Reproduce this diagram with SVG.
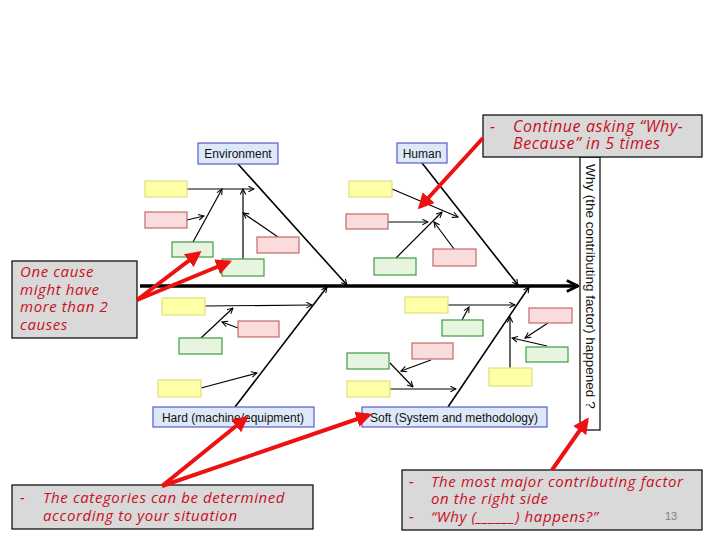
<svg xmlns="http://www.w3.org/2000/svg" width="720" height="540" viewBox="0 0 720 540">
<style>
.lbl{fill:#dde9f8;stroke:#5a5ad0;stroke-width:1.2}
.lt{font-family:"Liberation Sans",Arial,sans-serif;font-size:12px;fill:#111}
.y{fill:#ffffa6;stroke:#e0e080;stroke-width:1.2}
.p{fill:#fadcdc;stroke:#c06a6a;stroke-width:1.2}
.g{fill:#e6f4e0;stroke:#3a9e40;stroke-width:1.2}
.bone{stroke:#000;stroke-width:1.6;fill:none;marker-end:url(#ah)}
.sub{stroke:#000;stroke-width:1.2;fill:none;marker-end:url(#ah)}
.call{fill:#d9d9d9;stroke:#000;stroke-width:1.2}
.ct{font-family:"Open Sans","Liberation Sans",sans-serif;font-style:italic;font-size:15px;letter-spacing:0.6px;fill:#c8101e}
.ct2{font-family:"Open Sans","Liberation Sans",sans-serif;font-style:italic;font-size:16px;letter-spacing:0.6px;fill:#c8101e}
.red{stroke:#ee1111;stroke-width:4;fill:none;marker-end:url(#rh)}
</style>
<defs>
<marker id="ah" viewBox="0 0 10 10" refX="9" refY="5" markerWidth="7" markerHeight="7" markerUnits="userSpaceOnUse" orient="auto">
<path d="M1,1 L9,5 L1,9" fill="none" stroke="#000" stroke-width="1.5"/>
</marker>
<marker id="sh" viewBox="0 0 10 10" refX="9" refY="5" markerWidth="4" markerHeight="4" orient="auto">
<path d="M1,1 L9,5 L1,9" fill="none" stroke="#000" stroke-width="2"/>
</marker>
<marker id="rh" viewBox="0 0 10 10" refX="8" refY="5" markerWidth="4" markerHeight="4" orient="auto">
<path d="M0,0 L10,5 L0,10 Z" fill="#ee1111"/>
</marker>
</defs>
<rect width="720" height="540" fill="#fff"/>

<g id="connectors">
<line x1="140" y1="286" x2="578" y2="286" stroke="#000" stroke-width="3.5" marker-end="url(#sh)"/>
<line class="bone" x1="238" y1="164" x2="347" y2="285"/>
<line class="bone" x1="422" y1="163" x2="518" y2="285"/>
<line class="bone" x1="235" y1="407" x2="327" y2="287"/>
<line class="bone" x1="448" y1="407" x2="529" y2="287"/>
<line class="sub" x1="187" y1="189" x2="254" y2="189"/>
<line class="sub" x1="187" y1="220" x2="204" y2="216"/>
<line class="sub" x1="193" y1="242" x2="222" y2="189"/>
<line class="sub" x1="243" y1="259" x2="243" y2="189"/>
<line class="sub" x1="278" y1="237" x2="243" y2="213"/>
<line class="sub" x1="392" y1="189" x2="458" y2="217"/>
<line class="sub" x1="388" y1="222" x2="428" y2="222"/>
<line class="sub" x1="396" y1="258" x2="442" y2="212"/>
<line class="sub" x1="454" y1="249" x2="434" y2="222"/>
<line class="sub" x1="205" y1="306" x2="312" y2="305"/>
<line class="sub" x1="238" y1="328" x2="222" y2="322"/>
<line class="sub" x1="201" y1="338" x2="233" y2="308"/>
<line class="sub" x1="201" y1="388" x2="257" y2="373"/>
<line class="sub" x1="448" y1="305" x2="515" y2="305"/>
<line class="sub" x1="462" y1="320" x2="469" y2="307"/>
<line class="sub" x1="431" y1="360" x2="401" y2="371"/>
<line class="sub" x1="390" y1="363" x2="413" y2="387"/>
<line class="sub" x1="390" y1="389" x2="456" y2="389"/>
<line class="sub" x1="510" y1="368" x2="510" y2="317"/>
<line class="sub" x1="547" y1="346" x2="512" y2="338"/>
<line class="sub" x1="548" y1="323" x2="525" y2="338"/>
</g>

<g id="why-box">
<rect x="580" y="157" width="20" height="273" fill="#fff" stroke="#000" stroke-width="1.2"/>
<text transform="translate(586,164) rotate(90)" font-family="Liberation Sans,Arial,sans-serif" font-size="13.5" fill="#111">Why (the contributing factor) happened ?</text>
</g>

<g id="environment"><rect class="lbl" x="198" y="143" width="80" height="21"/><text class="lt" x="238" y="158" text-anchor="middle">Environment</text></g>
<g id="human"><rect class="lbl" x="397" y="143" width="50" height="20"/><text class="lt" x="422" y="158" text-anchor="middle">Human</text></g>
<g id="hard"><rect class="lbl" x="153" y="407" width="161" height="20"/><text class="lt" x="233" y="422" text-anchor="middle">Hard (machine/equipment)</text></g>
<g id="soft"><rect class="lbl" x="362" y="407" width="185" height="20"/><text class="lt" x="454" y="422" text-anchor="middle">Soft (System and methodology)</text></g>

<g id="env-causes">
<rect class="y" x="145" y="181" width="42" height="16"/>
<rect class="p" x="145" y="212" width="42" height="16"/>
<rect class="g" x="172" y="242" width="41" height="15"/>
<rect class="g" x="222" y="259" width="42" height="17"/>
<rect class="p" x="257" y="237" width="42" height="16"/>
</g>
<g id="human-causes">
<rect class="y" x="349" y="181" width="43" height="16"/>
<rect class="p" x="346" y="214" width="42" height="15"/>
<rect class="g" x="374" y="258" width="42" height="17"/>
<rect class="p" x="433" y="249" width="43" height="17"/>
</g>
<g id="hard-causes">
<rect class="y" x="162" y="298" width="43" height="17"/>
<rect class="p" x="238" y="321" width="41" height="16"/>
<rect class="g" x="179" y="338" width="43" height="16"/>
<rect class="y" x="158" y="380" width="43" height="17"/>
</g>
<g id="soft-causes">
<rect class="y" x="405" y="297" width="43" height="16"/>
<rect class="g" x="442" y="320" width="41" height="16"/>
<rect class="p" x="412" y="343" width="41" height="16"/>
<rect class="g" x="347" y="353" width="42" height="16"/>
<rect class="y" x="347" y="381" width="43" height="16"/>
<rect class="y" x="489" y="368" width="43" height="18"/>
<rect class="g" x="526" y="347" width="42" height="15"/>
<rect class="p" x="529" y="308" width="43" height="15"/>
</g>

<g id="callout-top">
<rect class="call" x="483" y="115" width="219" height="42"/>
<text class="ct2" x="490" y="132">-</text>
<text class="ct2" x="513" y="132">Continue asking “Why-</text>
<text class="ct2" x="513" y="149">Because” in 5 times</text>
</g>
<g id="callout-left">
<rect class="call" x="12" y="261" width="125" height="77"/>
<text class="ct" x="20" y="277">One cause</text>
<text class="ct" x="20" y="295">might have</text>
<text class="ct" x="20" y="312">more than 2</text>
<text class="ct" x="20" y="330">causes</text>
</g>
<g id="callout-bottom-left">
<rect class="call" x="12" y="485" width="301" height="44"/>
<text class="ct" x="20" y="503">-</text>
<text class="ct" x="43" y="503">The categories can be determined</text>
<text class="ct" x="43" y="521">according to your situation</text>
</g>
<g id="callout-bottom-right">
<rect class="call" x="402" y="470" width="300" height="60"/>
<text class="ct" x="409" y="487">-</text>
<text class="ct" x="431" y="487">The most major contributing factor</text>
<text class="ct" x="431" y="504">on the right side</text>
<text class="ct" x="409" y="522">-</text>
<text class="ct" x="431" y="522">“Why (______) happens?”</text>
<text x="665" y="520" font-family="Liberation Sans,Arial,sans-serif" font-size="11" fill="#808080">13</text>
</g>

<g id="red-arrows">
<line class="red" x1="483" y1="138" x2="420" y2="207"/>
<line class="red" x1="137" y1="300" x2="199" y2="253"/>
<line class="red" x1="137" y1="300" x2="229" y2="262"/>
<line class="red" x1="162" y1="486" x2="246" y2="418"/>
<line class="red" x1="162" y1="486" x2="369" y2="415"/>
<line class="red" x1="552" y1="470" x2="587" y2="420"/>
</g>
</svg>
